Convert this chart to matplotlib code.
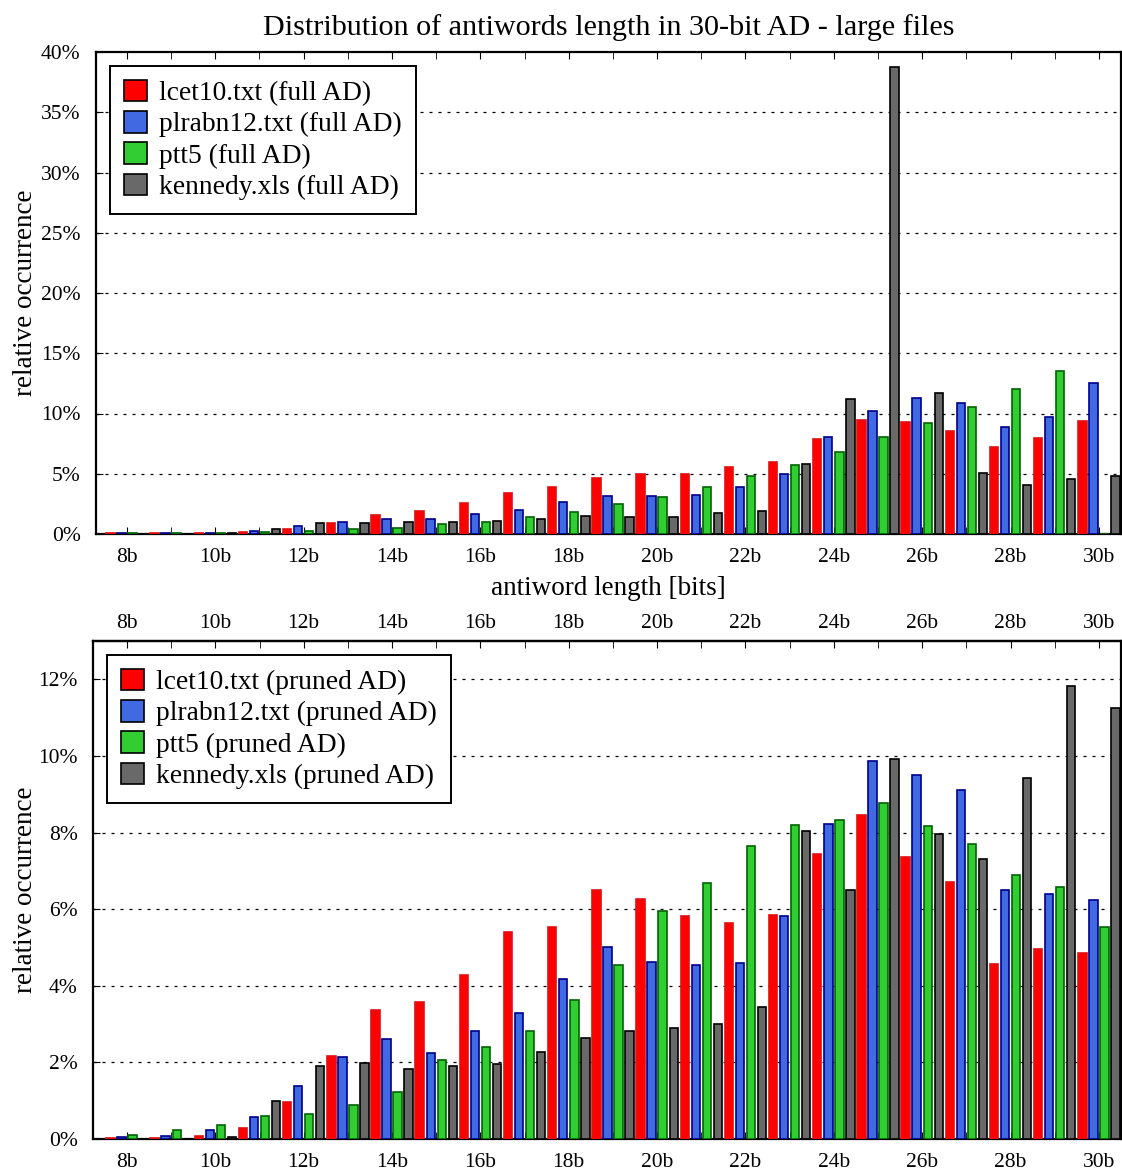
import matplotlib
matplotlib.use("Agg")
import matplotlib.pyplot as plt
from matplotlib.patches import Patch
from matplotlib.ticker import FixedLocator
import numpy as np

plt.rcParams['font.family'] = ['Liberation Serif', 'DejaVu Serif']

bits = list(range(8, 31))
xtick_bits = list(range(8, 31, 2))
xtick_labels = [f"{b}b" for b in xtick_bits]

# Full AD (percent)
full_lcet10 = [0.05, 0.05, 0.05, 0.2, 0.44, 0.94, 1.58, 1.91, 2.55, 3.4, 3.9, 4.65, 4.96, 5.0, 5.56, 5.98,
               7.92, 9.47, 9.33, 8.58, 7.22, 7.97, 9.39]
full_plrabn12 = [0.05, 0.05, 0.1, 0.25, 0.64, 0.99, 1.27, 1.27, 1.69, 1.99, 2.63, 3.13, 3.13, 3.24, 3.9, 4.98,
                 8.03, 10.2, 11.25, 10.9, 8.89, 9.67, 12.5]
full_ptt5 = [0.05, 0.05, 0.1, 0.2, 0.28, 0.39, 0.53, 0.83, 1.0, 1.41, 1.83, 2.46, 3.07, 3.88, 4.82, 5.75,
             6.78, 8.06, 9.19, 10.5, 12.06, 13.53, 0.0]
full_kennedy = [0.0, 0.0, 0.05, 0.45, 0.89, 0.94, 0.99, 1.0, 1.08, 1.25, 1.5, 1.41, 1.41, 1.77, 1.91, 5.8,
                11.2, 38.76, 11.7, 5.08, 4.06, 4.53, 4.8]

# Pruned AD (percent)
pr_lcet10 = [0.02, 0.02, 0.07, 0.3, 0.97, 2.16, 3.37, 3.57, 4.28, 5.41, 5.54, 6.51, 6.26, 5.83, 5.64, 5.84,
             7.44, 8.45, 7.36, 6.72, 4.56, 4.95, 4.86]
pr_plrabn12 = [0.04, 0.07, 0.23, 0.57, 1.38, 2.15, 2.6, 2.25, 2.83, 3.28, 4.18, 5.02, 4.63, 4.55, 4.6, 5.82,
               8.23, 9.88, 9.5, 9.12, 6.49, 6.4, 6.23]
pr_ptt5 = [0.1, 0.23, 0.36, 0.6, 0.64, 0.88, 1.22, 2.07, 2.41, 2.83, 3.63, 4.55, 5.95, 6.69, 7.64, 8.2,
           8.34, 8.77, 8.17, 7.71, 6.9, 6.58, 5.54]
pr_kennedy = [0.0, 0.0, 0.06, 0.99, 1.9, 1.98, 1.83, 1.9, 1.95, 2.28, 2.64, 2.83, 2.91, 2.99, 3.45, 8.05,
              6.5, 9.93, 7.97, 7.32, 9.42, 11.82, 11.26]

names = ["lcet10.txt", "plrabn12.txt", "ptt5", "kennedy.xls"]
faces = ["#ff0000", "#4169e1", "#32cd32", "#696969"]
edges = ["#e01010", "#00008b", "#006400", "#000000"]
offsets = [-0.375, -0.125, 0.125, 0.375]
width = 0.19

W, H = 1122, 1171
fig = plt.figure(figsize=(W / 100, H / 100), dpi=100)

ax1 = fig.add_axes([96 / W, 1 - 534 / H, (W - 97) / W, (534 - 52) / H])
ax2 = fig.add_axes([93 / W, 1 - 1139 / H, (W - 94) / W, (1139 - 641) / H])

x = np.array(bits, dtype=float)


def draw(ax, series, suffix, ylim, ystep, yticks_max, ylabelpad):
    for s, fc, ec, off in zip(series, faces, edges, offsets):
        ax.bar(x + off, s, width=width, color=fc, edgecolor=ec, linewidth=1.2, zorder=3)
    ax.set_ylim(0, ylim)
    yt = np.arange(0, yticks_max + 0.001, ystep)
    ax.set_yticks(yt)
    ax.set_yticklabels([f"{int(v)}%" for v in yt])
    ax.set_xticks(xtick_bits)
    ax.set_xticklabels(xtick_labels)
    ax.xaxis.set_minor_locator(FixedLocator(bits))
    for yv in np.arange(ystep, ylim - 0.001, ystep):
        ax.axhline(yv, color="black", linestyle=(0, (2.4, 4.8)), linewidth=0.9, zorder=1)
    ax.tick_params(axis="both", which="both", direction="in", labelsize=15.5)
    ax.tick_params(axis="x", which="both", length=5, top=True, bottom=True, pad=10)
    ax.tick_params(axis="y", which="major", length=5, right=False, left=True, pad=11)
    for sp in ax.spines.values():
        sp.set_linewidth(1.6)
    ax.set_ylabel("relative occurrence", fontsize=19.5, labelpad=ylabelpad)
    handles = [Patch(facecolor=fc, edgecolor="black", linewidth=1.2, label=f"{nm} ({suffix})")
               for fc, nm in zip(faces, names)]
    leg = ax.legend(handles=handles, loc="upper left", bbox_to_anchor=(0.0, 1.0),
                    fontsize=19.8, frameon=True, fancybox=False, edgecolor="black",
                    framealpha=1, borderpad=0.5, labelspacing=0.18,
                    handlelength=0.84, handleheight=0.84, handletextpad=0.46,
                    borderaxespad=0.5)
    leg.get_frame().set_linewidth(1.4)
    leg.set_zorder(10)


draw(ax1, [full_lcet10, full_plrabn12, full_ptt5, full_kennedy], "full AD", 40, 5, 40, 2.5)
ax1.set_xlim(7.30, 30.5)
ax1.set_xlabel("antiword length [bits]", fontsize=19.5, labelpad=6.5)
ax1.set_title("Distribution of antiwords length in 30-bit AD - large files", fontsize=21.7, pad=12)

draw(ax2, [pr_lcet10, pr_plrabn12, pr_ptt5, pr_kennedy], "pruned AD", 13, 2, 12, 0.5)
ax2.set_xlim(7.23, 30.5)

sec = ax2.secondary_xaxis("top")
sec.set_xticks(xtick_bits)
sec.set_xticklabels(xtick_labels)
sec.xaxis.set_minor_locator(FixedLocator(bits))
sec.tick_params(axis="x", which="both", direction="in", length=5, labelsize=15.5, pad=6)
sec.spines["top"].set_linewidth(1.6)
ax2.tick_params(axis="x", which="both", top=False)

fig.savefig("out.png", dpi=100)
